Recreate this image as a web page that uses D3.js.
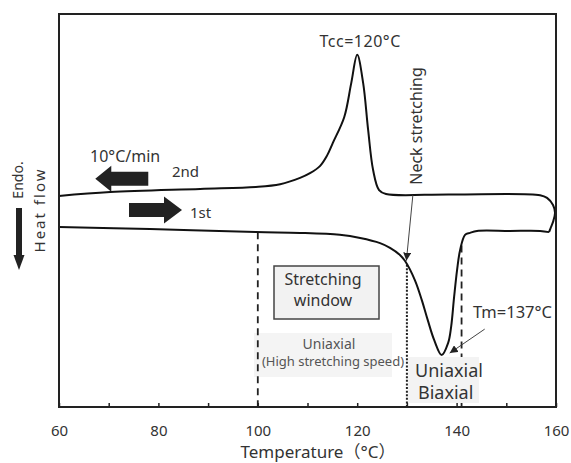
<!DOCTYPE html>
<html>
<head>
<meta charset="utf-8">
<script src="https://cdn.jsdelivr.net/npm/d3@7"></script>
<style>
  body { margin: 0; background: #fff; }
  svg text { font-family: "Noto Sans", "Noto Sans CJK JP", sans-serif; fill: #333; }
</style>
</head>
<body>
<svg id="chart" width="571" height="463"></svg>
<script>
// DSC traces: 1st heating run and 2nd (cooling) run, temperature in °C, heat flow in arbitrary units
const firstTemp = [60, 78.3, 99.6, 108.5, 116.5, 120.6, 124.6, 126.6, 128.6, 129.6, 131.6, 133.0, 134.2, 135.5, 137.0, 138.3, 138.9, 139.5, 140.1, 140.7, 141.7, 142.7, 144.1, 150.7, 156.8, 158.6];
const firstFlow = [45.8, 45.3, 44.5, 44.3, 43.8, 43.0, 41.7, 40.5, 38.7, 37.2, 32.3, 27.2, 22.1, 17.0, 13.2, 16.3, 20.4, 28.0, 34.9, 39.9, 43.8, 44.3, 44.8, 44.8, 44.8, 44.5];

const secondTemp = [60, 70.3, 88.4, 99.6, 104.5, 108.5, 110.5, 112.5, 113.9, 115.1, 117.4, 118.8, 120.0, 121.2, 122.2, 123.2, 124.4, 125.8, 138.7, 156.8, 158.2, 159.4, 159.8, 159.4, 159.0, 158.6];
const secondFlow = [53.7, 54.7, 55.5, 56.0, 56.7, 58.3, 59.5, 61.3, 63.9, 67.2, 73.8, 82.4, 89.6, 82.4, 70.5, 60.3, 55.2, 54.2, 54.1, 53.9, 53.2, 51.4, 49.4, 47.1, 45.8, 44.5];

const tickTemps = [60, 70, 80, 90, 100, 110, 120, 130, 140, 150, 160];
const labelTemps = [60, 80, 100, 120, 140, 160];
const coldCrystTemp = 120;   // Tcc
const meltTemp = 137;        // Tm
const windowStart = 100;     // lower limit of uniaxial stretching
const neckTemp = 130;        // neck stretching
const windowEnd = 141;       // upper limit of stretching

const svg = d3.select("#chart");
const x = d3.scaleLinear().domain([60, 160]).range([59, 556]);
const y = d3.scaleLinear().domain([0, 100]).range([407, 14]);

const firstPts = firstTemp.map((t, i) => [t, firstFlow[i]]);
const secondPts = secondTemp.map((t, i) => [t, secondFlow[i]]);

// heat flow on a trace at a given temperature (linear between points)
function flowAt(pts, t) {
  const mono = [];
  for (const p of pts) { if (mono.length && p[0] <= mono[mono.length - 1][0]) break; mono.push(p); }
  const i = d3.bisector(d => d[0]).right(mono, t);
  const a = mono[Math.max(0, i - 1)], b = mono[Math.min(mono.length - 1, i)];
  if (a[0] === b[0]) return a[1];
  return a[1] + (b[1] - a[1]) * (t - a[0]) / (b[0] - a[0]);
}

const g = svg.append("g");

// shaded label box under the uniaxial label
g.append("rect").attr("x", 254).attr("y", 333).attr("width", 138).attr("height", 44)
  .attr("fill", "#f4f4f4");

// reference lines for the stretching window
const refLines = [
  { t: windowStart, dash: "7,5", w: 1.8 },
  { t: neckTemp, dash: "2,1.6", w: 2 },
  { t: windowEnd, dash: "7,5", w: 1.8 }
];
g.selectAll("line.ref").data(refLines).join("line")
  .attr("class", "ref")
  .attr("x1", d => x(d.t)).attr("x2", d => x(d.t))
  .attr("y1", d => y(flowAt(firstPts, d.t))).attr("y2", y(0))
  .attr("stroke", "#222").attr("stroke-width", d => d.w)
  .attr("stroke-dasharray", d => d.dash);

g.append("rect").attr("x", 408).attr("y", 357).attr("width", 71).attr("height", 46)
  .attr("fill", "#f3f3f3");

// stretching window box
g.append("rect").attr("x", 274).attr("y", 266).attr("width", 105).attr("height", 53)
  .attr("fill", "#f2f2f2").attr("stroke", "#444").attr("stroke-width", 1.5);

// DSC curves
const line = d3.line().x(d => x(d[0])).y(d => y(d[1])).curve(d3.curveCatmullRom.alpha(0.5));
g.append("path").attr("d", line(secondPts)).attr("fill", "none")
  .attr("stroke", "#111").attr("stroke-width", 2);
g.append("path").attr("d", line(firstPts)).attr("fill", "none")
  .attr("stroke", "#111").attr("stroke-width", 2);

// bottom axis with inward ticks
const axis = d3.axisBottom(x).tickValues(tickTemps).tickSize(-4).tickSizeOuter(0)
  .tickFormat(d => labelTemps.includes(d) ? d : "");
const ax = g.append("g").attr("transform", `translate(0,${y(0)})`).call(axis);
ax.select(".domain").remove();
ax.selectAll(".tick line").attr("stroke", "#222").attr("stroke-width", 1.5);
ax.selectAll(".tick text").attr("y", 29).attr("dy", null)
  .style("font-size", "15px").attr("fill", "#333");

// frame
g.append("rect").attr("x", x(60)).attr("y", y(100))
  .attr("width", x(160) - x(60)).attr("height", y(0) - y(100))
  .attr("fill", "none").attr("stroke", "#222").attr("stroke-width", 2);

// axis title
svg.append("text").attr("x", 318).attr("y", 458).attr("text-anchor", "middle")
  .style("font-size", "17px").text("Temperature（°C）");

// y label with downward arrow
svg.append("text").attr("transform", "translate(23,180) rotate(-90)")
  .attr("text-anchor", "middle").style("font-size", "14px").text("Endo.");
svg.append("text").attr("transform", "translate(45,210) rotate(-90)")
  .attr("text-anchor", "middle").style("font-size", "15px").style("letter-spacing", "2px")
  .text("Heat flow");
svg.append("rect").attr("x", 16).attr("y", 208).attr("width", 6).attr("height", 48).attr("fill", "#222");
svg.append("path").attr("d", "M13.5,255 L24.5,255 L19,270 Z").attr("fill", "#222");

// block arrows showing scan direction
function blockArrow(tipX, tipY, dir, len, headLen, shaftHalf, headHalf) {
  const b = tipX - dir * headLen, e = tipX - dir * len;
  return `M${tipX},${tipY} L${b},${tipY - headHalf} L${b},${tipY - shaftHalf} L${e},${tipY - shaftHalf}` +
         ` L${e},${tipY + shaftHalf} L${b},${tipY + shaftHalf} L${b},${tipY + headHalf} Z`;
}
svg.append("path").attr("d", blockArrow(x(67.3), y(58.1), -1, 53, 16, 7, 13)).attr("fill", "#222");
svg.append("path").attr("d", blockArrow(x(84.75), y(50.1), 1, 53, 18, 7, 13.5)).attr("fill", "#222");

svg.append("text").attr("x", 90).attr("y", 162).style("font-size", "16px").text("10°C/min");
svg.append("text").attr("x", 172).attr("y", 177).style("font-size", "15px").text("2nd");
svg.append("text").attr("x", 190).attr("y", 218).style("font-size", "15px").text("1st");

// peak labels
svg.append("text").attr("x", x(coldCrystTemp) + 3).attr("y", 47).attr("text-anchor", "middle")
  .style("font-size", "16px").style("letter-spacing", "0.5px").text(`Tcc=${coldCrystTemp}°C`);
svg.append("text").attr("x", 473).attr("y", 318)
  .style("font-size", "16.5px").text(`Tm=${meltTemp}°C`);

// thin annotation arrows
svg.append("defs").append("marker").attr("id", "tri")
  .attr("viewBox", "0 0 10 10").attr("refX", 10).attr("refY", 5)
  .attr("markerWidth", 8).attr("markerHeight", 8).attr("markerUnits", "userSpaceOnUse")
  .attr("orient", "auto")
  .append("path").attr("d", "M0,0 L10,5 L0,10 Z").attr("fill", "#222");

const neckTipX = x(neckTemp) - 0.5, neckTipY = y(flowAt(firstPts, neckTemp)) - 4;
svg.append("line").attr("x1", x(neckTemp + 1.2)).attr("y1", y(flowAt(secondPts, neckTemp + 1.2)) + 1)
  .attr("x2", neckTipX).attr("y2", neckTipY)
  .attr("stroke", "#444").attr("stroke-width", 1).attr("marker-end", "url(#tri)");
svg.append("text").attr("transform", "translate(422,126) rotate(-90)")
  .attr("text-anchor", "middle").style("font-size", "16px").text("Neck stretching");

const meltTipX = x(meltTemp) + 8, meltTipY = y(d3.min(firstFlow)) - 2;
svg.append("line").attr("x1", meltTipX + 35).attr("y1", meltTipY - 24)
  .attr("x2", meltTipX).attr("y2", meltTipY)
  .attr("stroke", "#444").attr("stroke-width", 1).attr("marker-end", "url(#tri)");

// window labels
svg.append("text").attr("x", 323).attr("y", 285).attr("text-anchor", "middle")
  .style("font-size", "16px").text("Stretching");
svg.append("text").attr("x", 323).attr("y", 306).attr("text-anchor", "middle")
  .style("font-size", "16px").text("window");

svg.append("text").attr("x", 329).attr("y", 349).attr("text-anchor", "middle")
  .style("font-size", "14px").style("fill", "#555").text("Uniaxial");
svg.append("text").attr("x", 333).attr("y", 365.5).attr("text-anchor", "middle")
  .style("font-size", "13px").style("fill", "#555").text("(High stretching speed)");

svg.append("text").attr("x", 415).attr("y", 377).style("font-size", "18px").text("Uniaxial");
svg.append("text").attr("x", 418).attr("y", 399).style("font-size", "18px").text("Biaxial");
</script>
</body>
</html>
